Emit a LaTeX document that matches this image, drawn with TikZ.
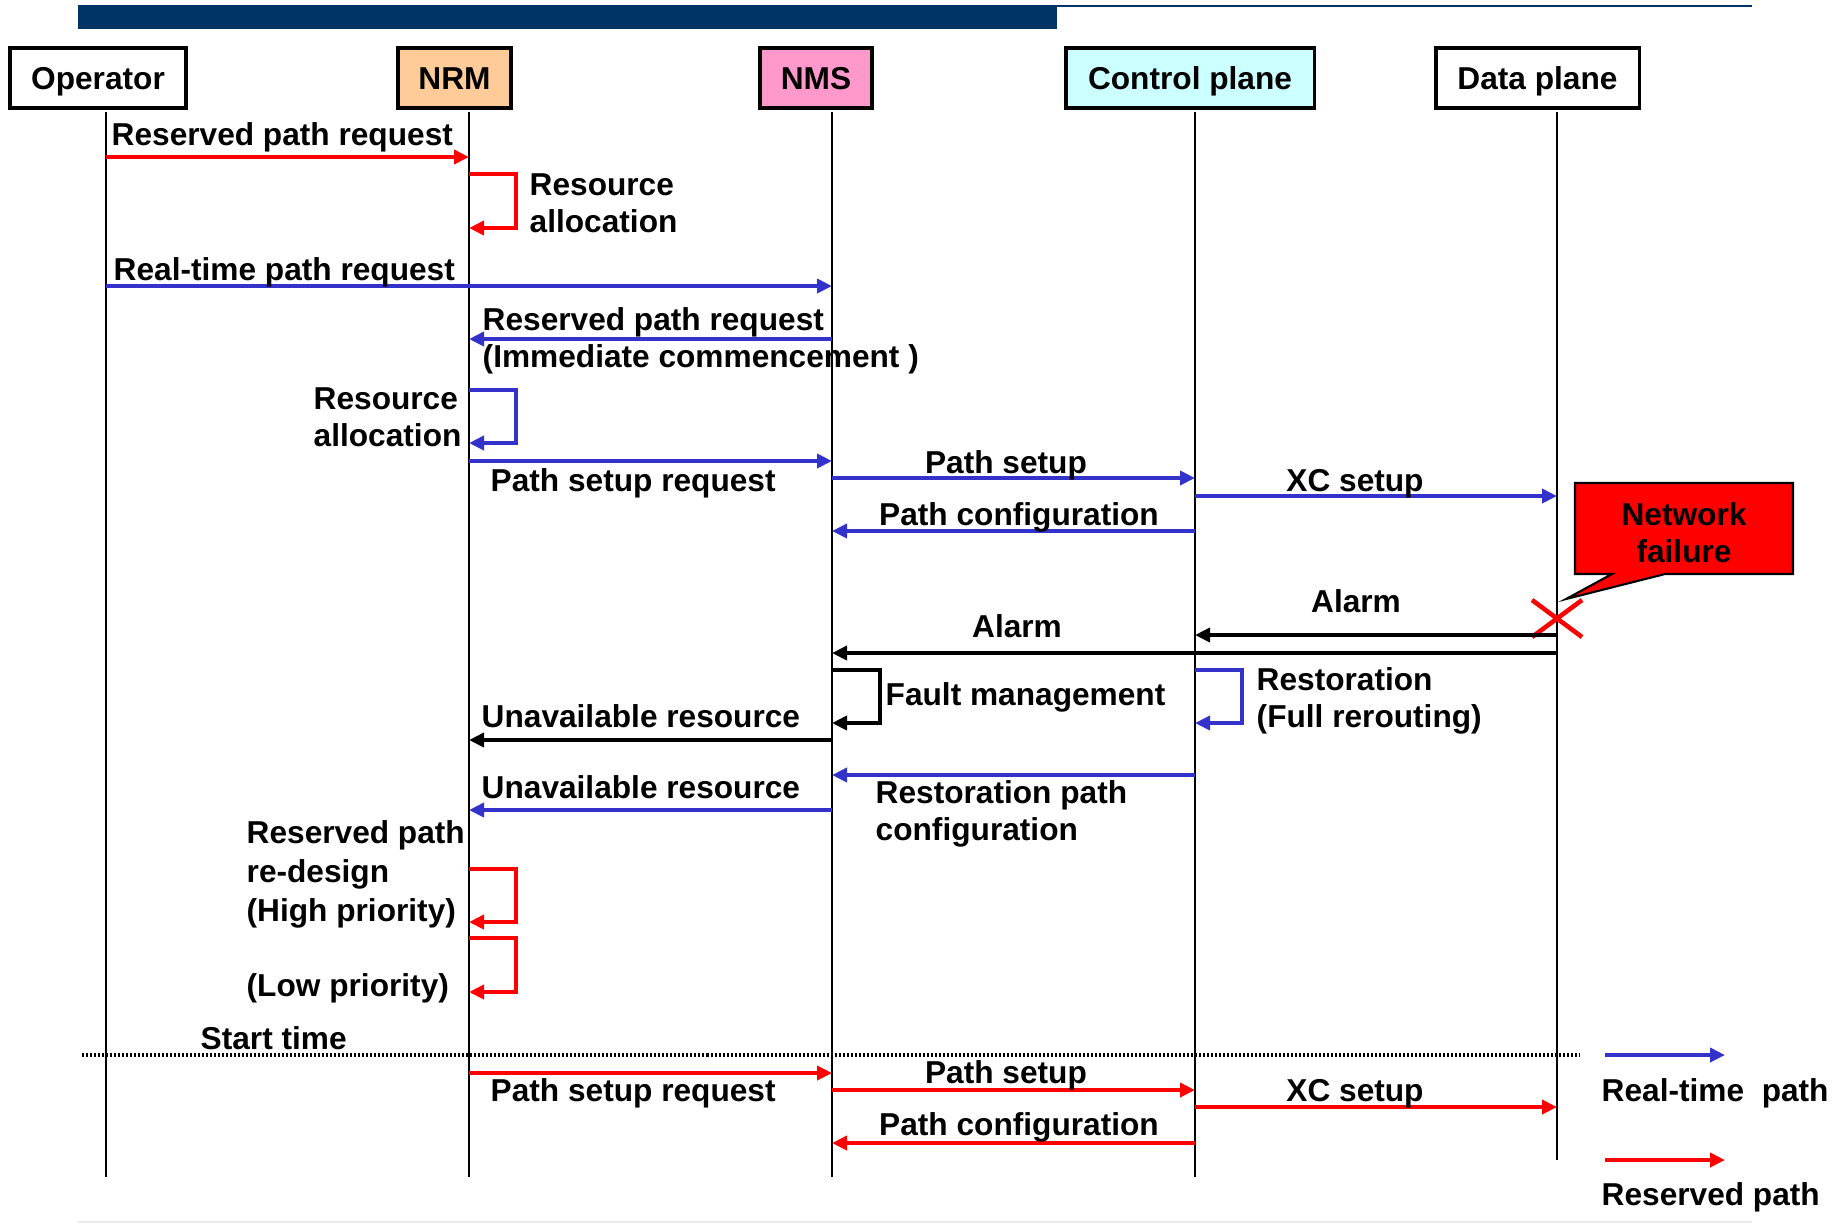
\documentclass[tikz,border=0pt]{standalone}
\usepackage{fontspec}
\setmainfont{Liberation Sans}
\usetikzlibrary{arrows.meta}
\definecolor{rtblue}{RGB}{51,51,204}
\definecolor{barnavy}{RGB}{0,51,102}
\definecolor{nrmfill}{RGB}{255,204,153}
\definecolor{nmsfill}{RGB}{255,153,204}
\definecolor{cpfill}{RGB}{204,255,255}
\colorlet{resv line}{red}
\colorlet{rt line}{rtblue}
\tikzset{head/.style={draw, line width=0.9pt, minimum height=0.6cm, text height=0.23cm, text depth=0pt, inner sep=0pt, font=\fontsize{9pt}{10.5pt}\selectfont\bfseries},
    life/.style={line width=0.6pt},
    msg/.style={line width=1.1pt, -{Triangle[length=0.15cm,width=0.14cm]}},
    resv/.style={msg, draw=resv line},
    rt/.style={msg, draw=rt line},
    alarm/.style={msg, draw=black, line width=1.2pt},
    lbl/.style={inner sep=0pt, anchor=base west, align=left, font=\fontsize{9pt}{10.5pt}\selectfont\bfseries},
    clbl/.style={lbl, anchor=base, align=center}}

\begin{document}
\begin{tikzpicture}[x=0.01cm, y=-0.01cm]
\useasboundingbox (0,0) rectangle (1843,1223);

\fill[barnavy] (78,5) rectangle (1057,29);
\draw[barnavy, line width=0.7pt] (1057,6) -- (1752,6);
\draw[black!8, line width=0.6pt] (78,1222) -- (1752,1222);

% heads and lifelines
\node[head, minimum width=1.76cm] (opbox) at (98,78) {Operator};
\node[head, minimum width=1.13cm, fill=nrmfill] (nrmbox) at (454.5,78) {NRM};
\node[head, minimum width=1.12cm, fill=nmsfill] (nmsbox) at (816,78) {NMS};
\node[head, minimum width=2.48cm, fill=cpfill] (cpbox) at (1190,78) {Control plane};
\node[head, minimum width=2.03cm] (dpbox) at (1537.5,78) {Data plane};
\coordinate (op) at (106,112);
\coordinate (nrm) at (469,112);
\coordinate (nms) at (832,112);
\coordinate (cp) at (1195,112);
\coordinate (dp) at (1557,112);
\draw[life] (op) -- ++(0,1065);
\draw[life] (nrm) -- ++(0,1065);
\draw[life] (nms) -- ++(0,1065);
\draw[life] (cp) -- ++(0,1065);
\draw[life] (dp) -- ++(0,1048);

% before start time
\draw[resv] (op |- 0,157) -- (nrm |- 0,157);
\node[lbl] (resvreq) at (111,145) {Reserved path request};
\draw[resv] (nrm |- 0,174) -- ++(47,0) |- (nrm |- 0,228);
\node[lbl] (alloca) at (529,232) {Resource\\allocation};
\draw[rt] (op |- 0,286) -- (nms |- 0,286);
\node[lbl] (rtreq) at (113,280) {Real-time path request};
\draw[rt] (nms |- 0,339) -- (nrm |- 0,339);
\node[lbl] (resvimm) at (482,367) {Reserved path request\\(Immediate commencement )};
\draw[rt] (nrm |- 0,390) -- ++(47,0) |- (nrm |- 0,443);
\node[lbl] (allocb) at (313,446) {Resource\\allocation};
\draw[rt] (nrm |- 0,461) -- (nms |- 0,461);
\node[lbl] (psreqa) at (490,491) {Path setup request};
\draw[rt] (nms |- 0,478) -- (cp |- 0,478);
\node[clbl] (psa) at (1006,473) {Path setup};
\draw[rt] (cp |- 0,496) -- (dp |- 0,496);
\node[clbl] (xca) at (1355,491) {XC setup};
\draw[rt] (cp |- 0,531) -- (nms |- 0,531);
\node[clbl] (pca) at (1019,525) {Path configuration};

% failure
\draw[fill=red, line width=0.6pt] (1575,483) -- (1793,483) -- (1793,574) -- (1665,574) -- (1566,599) -- (1612,574) -- (1575,574) -- cycle;
\node[clbl] (netfail) at (1684,562) {Network\\failure};
\draw[red, line width=1.3pt] (1532,600) -- (1582,637) (1532,637) -- (1582,600);
\draw[alarm] (dp |- 0,635) -- (cp |- 0,635);
\node[clbl] (alarma) at (1356,612) {Alarm};
\draw[alarm] (dp |- 0,653) -- (nms |- 0,653);
\node[clbl] (alarmb) at (1017,637) {Alarm};
\draw[alarm] (nms |- 0,670) -- ++(48,0) |- (nms |- 0,723);
\node[lbl] (fault) at (885,705) {Fault management};
\draw[rt] (cp |- 0,670) -- ++(47,0) |- (cp |- 0,723);
\node[lbl] (restor) at (1256,727) {Restoration\\(Full rerouting)};
\draw[alarm] (nms |- 0,740) -- (nrm |- 0,740);
\node[lbl] (unava) at (481,727) {Unavailable resource};
\draw[rt] (cp |- 0,775) -- (nms |- 0,775);
\node[lbl] (restpc) at (875,840) {Restoration path\\configuration};
\draw[rt] (nms |- 0,810) -- (nrm |- 0,810);
\node[lbl] (unavb) at (481,798) {Unavailable resource};

% re-design
\node[lbl, font=\fontsize{9pt}{11pt}\selectfont\bfseries] (redesign) at (246,921) {Reserved path\\re-design\\(High priority)};
\draw[resv] (nrm |- 0,869) -- ++(47,0) |- (nrm |- 0,922);
\draw[resv] (nrm |- 0,938) -- ++(47,0) |- (nrm |- 0,992);
\node[lbl] (lowprio) at (246,996) {(Low priority)};

% after start time
\coordinate (startl) at (82,1055);
\coordinate (startr) at (1580,1055);
\draw[line width=0.9pt, dash pattern=on 0.02cm off 0.02cm] (startl) -- (startr);
\node[lbl] (start) at (200,1049) {Start time};
\draw[resv] (nrm |- 0,1073) -- (nms |- 0,1073);
\node[lbl] (psreqb) at (490,1101) {Path setup request};
\draw[resv] (nms |- 0,1090) -- (cp |- 0,1090);
\node[clbl] (psb) at (1006,1083) {Path setup};
\draw[resv] (cp |- 0,1107) -- (dp |- 0,1107);
\node[clbl] (xcb) at (1355,1101) {XC setup};
\draw[resv] (cp |- 0,1143) -- (nms |- 0,1143);
\node[clbl] (pcb) at (1019,1135) {Path configuration};

% legend
\coordinate (legrt) at (1605,1055);
\coordinate (legresv) at (1605,1160);
\draw[rt] (legrt) -- ++(120,0);
\node[lbl] (legrtl) at (1601,1101) {Real-time~ path};
\draw[resv] (legresv) -- ++(120,0);
\node[lbl] (legresvl) at (1601,1205) {Reserved path};
\end{tikzpicture}
\end{document}
